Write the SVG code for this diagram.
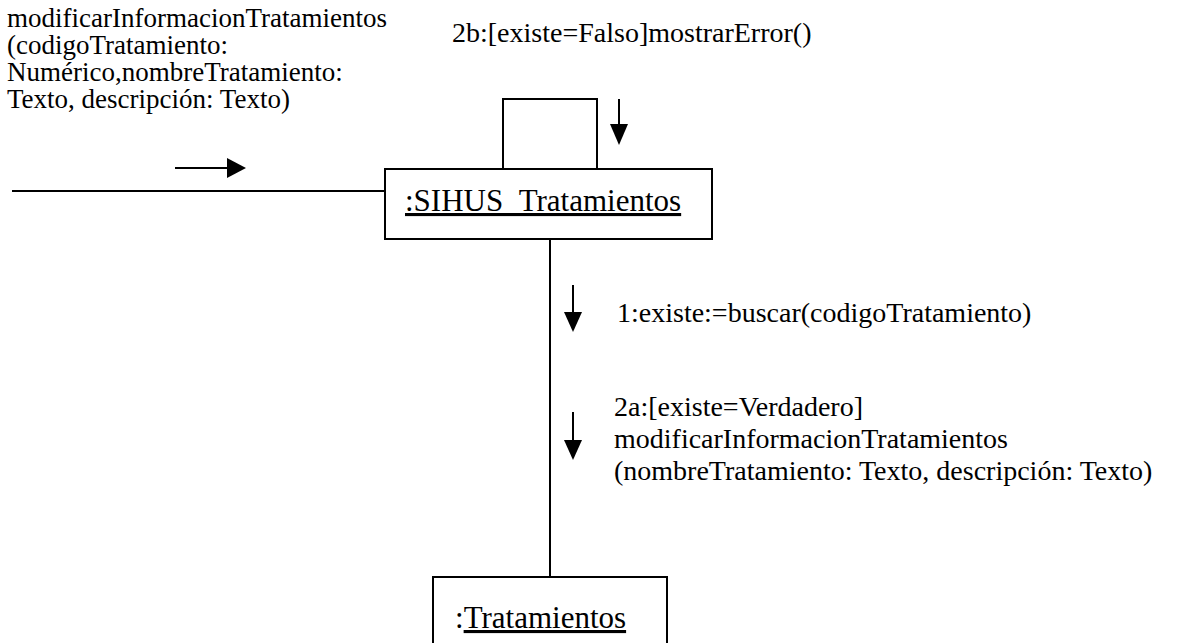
<svg xmlns="http://www.w3.org/2000/svg" width="1181" height="643" viewBox="0 0 1181 643">
<style>
.t{font-family:"Liberation Serif","Times New Roman",serif;font-size:28px;fill:#000}
.tl{font-family:"Liberation Serif","Times New Roman",serif;font-size:27px;fill:#000}
.n{font-family:"Liberation Serif","Times New Roman",serif;font-size:31px;fill:#000}
.box{fill:#fff;stroke:#000;stroke-width:2}
.ln{fill:none;stroke:#000;stroke-width:2}
.head{fill:#000}
</style>
<g id="connectors">
<line class="ln" x1="12" y1="191" x2="385" y2="191"/>
<polyline class="ln" points="503,169 503,99 597,99 597,169"/>
<line class="ln" x1="550" y1="239" x2="550" y2="577"/>
<path d="M175,168 H227" class="ln"/><path class="head" d="M227,158 L246,168 L227,178 Z"/>
<path d="M619,99 V124" class="ln"/><path class="head" d="M610,124 L619,145 L628,124 Z"/>
<path d="M573,285 V312" class="ln"/><path class="head" d="M564,312 L573,332 L582,312 Z"/>
<path d="M573,412 V440" class="ln"/><path class="head" d="M564,440 L573,460 L582,440 Z"/>
</g>
<g id="labels">
<text class="tl" x="7" y="27">modificarInformacionTratamientos</text>
<text class="tl" x="7" y="54">(codigoTratamiento:</text>
<text class="tl" x="7" y="81">Numérico,nombreTratamiento:</text>
<text class="tl" x="7" y="108">Texto, descripción: Texto)</text>
<text class="t" x="452" y="42">2b:[existe=Falso]mostrarError()</text>
<text class="t" x="617" y="322">1:existe:=buscar(codigoTratamiento)</text>
<text class="t" x="614" y="416">2a:[existe=Verdadero]</text>
<text class="t" x="614" y="448">modificarInformacionTratamientos</text>
<text class="t" x="614" y="480">(nombreTratamiento: Texto, descripción: Texto)</text>
</g>
<g id="node-sihus">
<rect class="box" x="385" y="169" width="327" height="70"/>
<text class="n" x="405" y="211" text-decoration="underline">:SIHUS_Tratamientos</text>
</g>
<g id="node-tratamientos">
<rect class="box" x="433" y="577" width="234" height="80"/>
<text class="n" x="455" y="628">:<tspan text-decoration="underline">Tratamientos</tspan></text>
</g>
</svg>
